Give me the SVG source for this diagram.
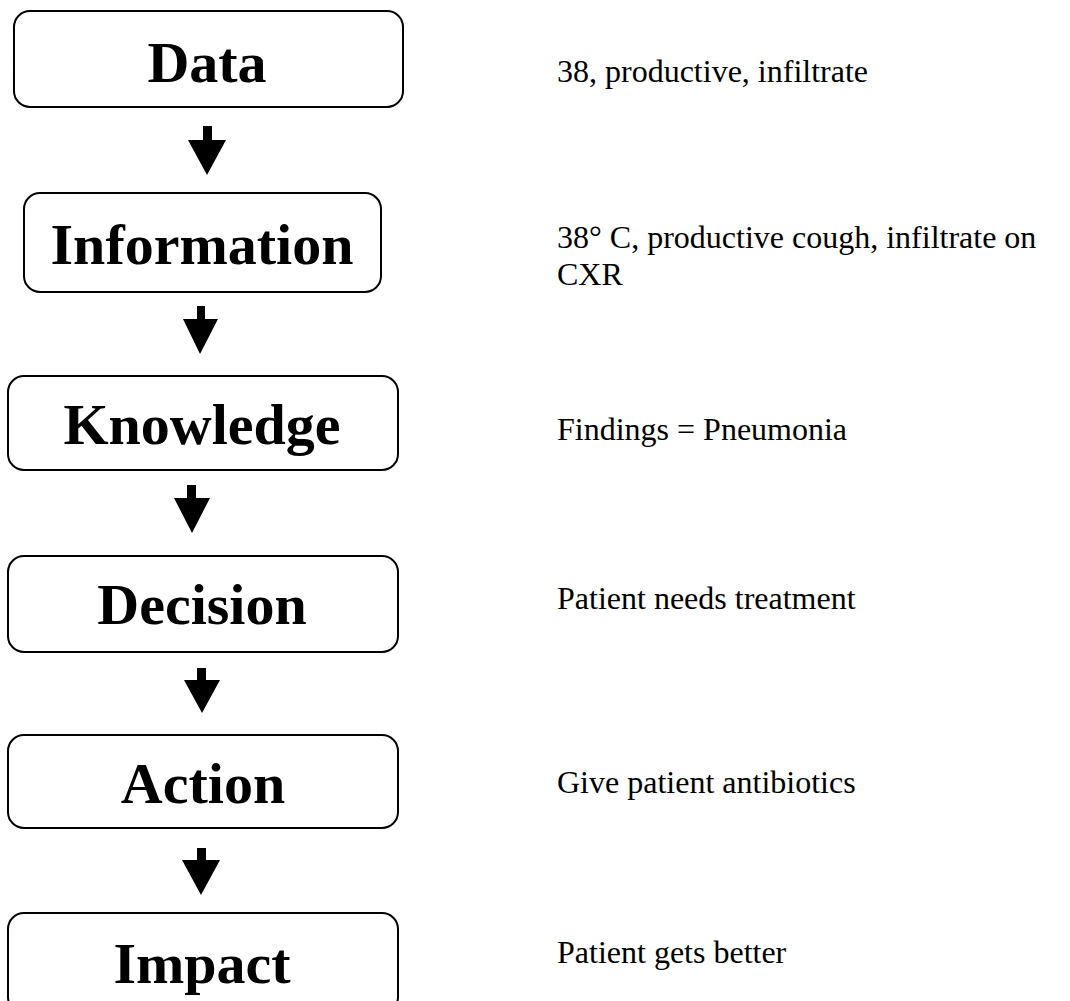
<svg xmlns="http://www.w3.org/2000/svg" width="1070" height="1001" viewBox="0 0 1070 1001">
  <style>
    .box { fill: #ffffff; stroke: #000000; stroke-width: 2; }
    .title { font-family: "Liberation Serif", "Times New Roman", serif; font-weight: bold; font-size: 58px; fill: #000; text-anchor: middle; }
    .note { font-family: "Liberation Serif", "Times New Roman", serif; font-size: 32px; fill: #000; }
    .arrow { fill: #000; }
  </style>
  <rect width="1070" height="1001" fill="#ffffff"/>

  <g id="connectors">
    <path class="arrow" d="M203,126 H212 V140 H226 L207,175 L188,140 H203 Z"/>
    <path class="arrow" d="M197,306 H205 V319 H218 L200,354 L183,319 H197 Z"/>
    <path class="arrow" d="M187,485 H196 V498 H210 L192,533 L174,498 H187 Z"/>
    <path class="arrow" d="M197,668 H206 V680 H220 L202,713 L184,680 H197 Z"/>
    <path class="arrow" d="M197,848 H206 V860 H220 L201,895 L182,860 H197 Z"/>
  </g>

  <g id="node-data">
    <rect class="box" x="14" y="11" width="389" height="96" rx="16"/>
    <text class="title" x="207" y="82">Data</text>
  </g>
  <g id="node-information">
    <rect class="box" x="24" y="193" width="357" height="99" rx="16"/>
    <text class="title" x="202" y="264">Information</text>
  </g>
  <g id="node-knowledge">
    <rect class="box" x="8" y="376" width="390" height="94" rx="16"/>
    <text class="title" x="202" y="444">Knowledge</text>
  </g>
  <g id="node-decision">
    <rect class="box" x="8" y="556" width="390" height="96" rx="16"/>
    <text class="title" x="202" y="624">Decision</text>
  </g>
  <g id="node-action">
    <rect class="box" x="8" y="735" width="390" height="93" rx="16"/>
    <text class="title" x="203" y="803">Action</text>
  </g>
  <g id="node-impact">
    <rect class="box" x="8" y="913" width="390" height="100" rx="16"/>
    <text class="title" x="202" y="983">Impact</text>
  </g>

  <g id="notes">
    <text class="note" x="557" y="82">38, productive, infiltrate</text>
    <text class="note" x="557" y="248">38° C, productive cough, infiltrate on</text>
    <text class="note" x="557" y="285">CXR</text>
    <text class="note" x="557" y="440">Findings = Pneumonia</text>
    <text class="note" x="557" y="609">Patient needs treatment</text>
    <text class="note" x="557" y="793">Give patient antibiotics</text>
    <text class="note" x="557" y="963">Patient gets better</text>
  </g>
</svg>
